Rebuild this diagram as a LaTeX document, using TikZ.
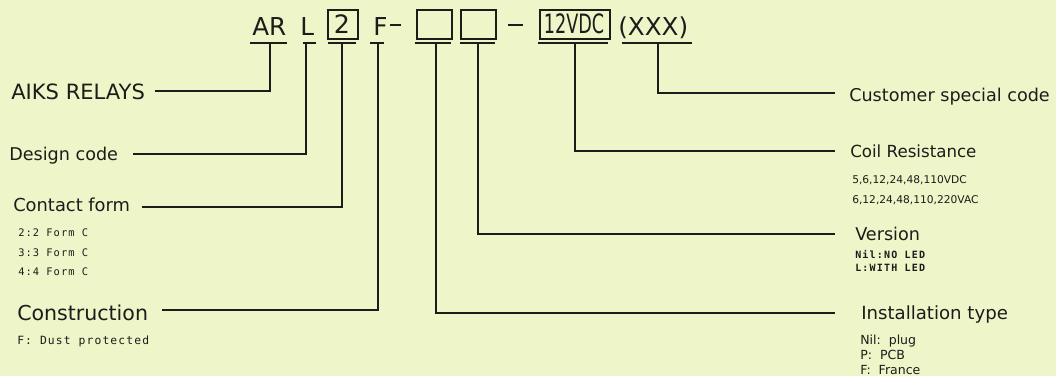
\documentclass[tikz,border=0pt]{standalone}
\usepackage{fontspec}
\usepackage{graphicx}
\setmainfont{DejaVu Sans}
\newfontfamily\monof[LetterSpace=10]{DejaVu Sans Mono}
\newfontfamily\monob[LetterSpace=12]{DejaVu Sans Mono Bold}
\definecolor{bg}{RGB}{237,245,201}
\definecolor{ink}{RGB}{28,28,26}
\tikzset{
  lbl/.style={anchor=base west, inner sep=0pt, text=ink},
  code/.style={anchor=base west, inner sep=0pt, text=ink, font=\fontsize{18.5}{20}\selectfont},
  cbox/.style={draw=ink, line width=1.2pt, inner sep=0pt},
  wire/.style={draw=ink, line width=1.4pt},
  dashbar/.style={draw=ink, line width=2.2pt},
  uline/.style={draw=ink, line width=1.4pt},
}
\begin{document}
\begin{tikzpicture}[x=0.75pt,y=-0.75pt]
\fill[bg] (0,0) rectangle (1056,376);
\useasboundingbox (0,0) rectangle (1056,376);
% code row
\node[code] (ar) at (252,35) {AR};
\node[code] (l) at (300,35) {L};
\node[cbox, minimum width=30*0.75pt, minimum height=29*0.75pt, anchor=north west] (b2) at (327,9) {};
\node[text=ink, inner sep=0pt, font=\fontsize{19}{20}\selectfont] (b2t) at (342,24) {2};
\node[code] (f) at (373,35) {F};
\draw[dashbar] (390,25) -- (401,25);
\node[cbox, minimum width=35*0.75pt, minimum height=29*0.75pt, anchor=north west] (b3) at (416,9) {};
\node[cbox, minimum width=35*0.75pt, minimum height=29*0.75pt, anchor=north west] (b4) at (460,9) {};
\draw[dashbar] (508,25) -- (523,25);
\node[cbox, minimum width=70*0.75pt, minimum height=29*0.75pt, anchor=north west] (b5) at (539,9) {};
\node[text=ink, inner sep=0pt, font=\fontsize{20}{20}\selectfont] (b5t) at (574,24) {\scalebox{0.66}[1]{12VDC}};
\node[code] (xxx) at (618,35) {(XXX)};
% underlines
\coordinate (uAR) at (270,43);
\coordinate (uL) at (306,43);
\coordinate (u2) at (342,43);
\coordinate (uF) at (378,43);
\coordinate (u3) at (436,43);
\coordinate (u4) at (478,43);
\coordinate (u5) at (575,43);
\coordinate (u6) at (658,43);
\draw[uline] (250,43) -- (287,43);
\draw[uline] (303,43) -- (316,43);
\draw[uline] (328,43) -- (356,43);
\draw[uline] (370,43) -- (384,43);
\draw[uline] (415,43) -- (451,43);
\draw[uline] (460,43) -- (495,43);
\draw[uline] (538,43) -- (608,43);
\draw[uline] (622,43) -- (692,43);
% left labels
\node[lbl, font=\fontsize{15.8}{18}\selectfont] (aiks) at (11,99) {AIKS RELAYS};
\node[lbl, font=\fontsize{13.2}{16}\selectfont] (design) at (9,160) {Design code};
\node[lbl, font=\fontsize{13.4}{16}\selectfont] (contact) at (13,211) {Contact form};
\node[lbl, font=\monof\fontsize{7.8}{9}\selectfont] (c2) at (18,236) {2:2 Form C};
\node[lbl, font=\monof\fontsize{7.8}{9}\selectfont] (c3) at (18,256) {3:3 Form C};
\node[lbl, font=\monof\fontsize{7.8}{9}\selectfont] (c4) at (18,275) {4:4 Form C};
\node[lbl, font=\fontsize{15.4}{18}\selectfont] (constr) at (17,320) {Construction};
\node[lbl, font=\monof\fontsize{8.5}{9}\selectfont] (dust) at (17,344) {F: Dust protected};
% right labels
\node[lbl, font=\fontsize{13.2}{16}\selectfont] (cust) at (849,101) {Customer special code};
\node[lbl, font=\fontsize{12.5}{16}\selectfont] (coil) at (850,157) {Coil Resistance};
\node[lbl, font=\fontsize{8}{10}\selectfont] (vdc) at (852,183) {5,6,12,24,48,110VDC};
\node[lbl, font=\fontsize{8}{10}\selectfont] (vac) at (852,203) {6,12,24,48,110,220VAC};
\node[lbl, font=\fontsize{13.2}{16}\selectfont] (ver) at (855,240) {Version};
\node[lbl, font=\monob\fontsize{7.5}{8}\selectfont] (nol) at (855,258) {Nil:NO LED};
\node[lbl, font=\monob\fontsize{7.5}{8}\selectfont] (wl) at (855,271) {L:WITH LED};
\node[lbl, font=\fontsize{13.6}{16}\selectfont] (inst) at (861,319) {Installation type};
\node[lbl, font=\fontsize{9.4}{10}\selectfont] (plug) at (860,344) {Nil:\ \ plug};
\node[lbl, font=\fontsize{9.4}{10}\selectfont] (pcb) at (860,359) {P:\ \ PCB};
\node[lbl, font=\fontsize{9.4}{10}\selectfont] (fra) at (860,374) {F:\ \ France};
% connector ends
\coordinate (eAIKS) at (155,91);
\coordinate (eDes) at (133,154);
\coordinate (eCon) at (142,207);
\coordinate (eCons) at (162,310);
\coordinate (eInst) at (835,313);
\coordinate (eVer) at (835,234);
\coordinate (eCoil) at (835,151);
\coordinate (eCust) at (835,93);
% connectors
\draw[wire] (uAR) |- (eAIKS);
\draw[wire] (uL) |- (eDes);
\draw[wire] (u2) |- (eCon);
\draw[wire] (uF) |- (eCons);
\draw[wire] (u3) |- (eInst);
\draw[wire] (u4) |- (eVer);
\draw[wire] (u5) |- (eCoil);
\draw[wire] (u6) |- (eCust);
\end{tikzpicture}
\end{document}
